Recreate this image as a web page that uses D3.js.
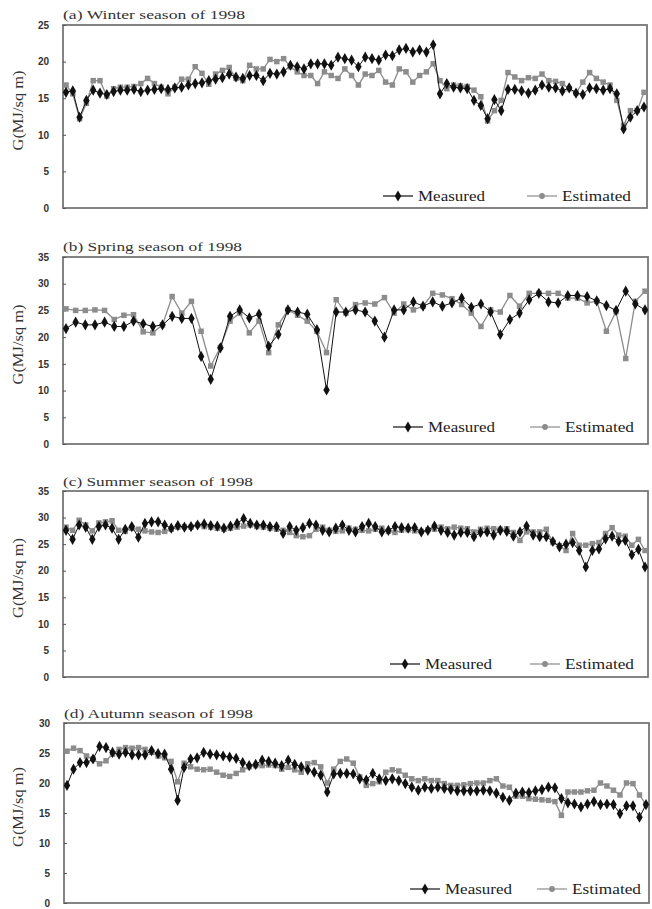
<!DOCTYPE html>
<html>
<head>
<meta charset="utf-8">
<script src="https://cdn.jsdelivr.net/npm/d3@7"></script>
<style>
  body { margin: 0; background: #fff; }
  svg { display: block; }
</style>
</head>
<body>
<svg id="chart" width="652" height="909"></svg>
<script>
// Daily global radiation, 1998 (MJ/sq m)
const winterMeasured = [15.8, 16.0, 12.4, 14.7, 16.1, 15.7, 15.5, 15.9, 16.1, 16.1, 16.2, 15.9, 16.1, 16.2, 16.3, 16.2, 16.4, 16.5, 16.8, 17.0, 17.1, 17.4, 17.6, 17.8, 18.3,
  17.9, 17.7, 18.1, 18.1, 17.4, 18.4, 18.3, 18.6, 19.5, 19.3, 19.0, 19.7, 19.7, 19.7, 19.5, 20.6, 20.4, 20.2, 19.3, 20.6, 20.4, 20.2, 20.9, 20.8, 21.6, 21.8, 21.3, 21.6, 21.3, 22.3, 15.6, 17.0,
  16.5, 16.4, 16.3, 14.7, 14.0, 12.2, 14.8, 13.3, 16.2, 16.2, 16.0, 15.7, 16.1, 16.8, 16.5, 16.4, 16.0, 16.4, 15.7, 15.5, 16.4, 16.3, 16.1, 16.3, 15.6, 10.8, 12.4, 13.3, 13.8];
const winterEstimated = [16.8, 15.6, 12.2, 14.3, 17.4, 17.4, 15.3, 16.3, 16.5, 16.5, 16.6, 17.0, 17.7, 17.0, 16.5, 15.6, 16.5, 17.6, 17.6, 19.3, 18.4, 16.9, 18.3, 18.8, 19.2,
  17.7, 17.4, 19.5, 19.0, 19.0, 20.3, 20.0, 20.4, 19.3, 18.6, 18.1, 18.1, 17.0, 18.6, 18.1, 17.7, 19.0, 18.1, 16.8, 18.3, 18.1, 18.8, 17.2, 16.8, 19.0, 18.6, 17.2, 18.1, 18.6, 19.7, 17.4, 16.3,
  16.8, 16.7, 16.6, 16.1, 15.2, 11.9, 13.3, 14.7, 18.5, 17.9, 17.4, 17.8, 17.7, 18.3, 17.4, 17.3, 17.0, 16.3, 15.7, 17.2, 18.5, 17.7, 17.2, 16.8, 14.7, 11.3, 13.3, 13.3, 15.8];

const springMeasured = [21.6, 22.8, 22.3, 22.3, 22.8, 22.0, 22.0, 23.0, 22.5, 22.0, 22.3, 23.9, 23.5, 23.5, 16.4, 12.1, 18.0, 23.9,
  25.1, 23.6, 24.3, 18.3, 20.5, 25.1, 24.7, 24.3, 21.4, 10.1, 24.7, 24.7, 25.1, 24.7, 23.0, 20.0, 25.1, 25.1, 26.6, 25.8, 26.6, 25.8,
  26.4, 27.3, 25.6, 26.2, 24.7, 20.5, 23.3, 24.5, 27.0, 28.2, 26.6, 26.4, 27.8, 27.8, 27.6, 26.8, 25.9, 25.0, 28.6, 26.2, 25.1];
const springEstimated = [25.3, 25.0, 25.0, 25.1, 25.0, 23.3, 24.1, 24.2, 21.0, 20.8, 22.3, 27.6, 24.5, 26.7, 21.1, 14.6, 18.1, 23.0,
  24.5, 20.8, 23.0, 17.1, 22.3, 25.1, 24.1, 23.0, 21.1, 17.1, 27.0, 24.5, 26.1, 26.4, 26.2, 27.4, 24.5, 26.2, 25.1, 25.8, 28.2, 27.9,
  27.2, 26.1, 24.5, 22.0, 25.1, 24.7, 27.8, 25.8, 28.2, 28.2, 28.2, 28.2, 27.3, 27.3, 26.4, 26.7, 21.1, 24.8, 16.0, 26.7, 28.6];

const summerMeasured = [27.6, 25.9, 28.6, 28.2, 25.9, 28.3, 28.6, 28.0, 25.9, 27.8, 28.3, 26.3, 28.9, 29.2, 29.2, 28.6, 28.0, 28.5, 28.2, 28.3, 28.6, 28.8, 28.5, 28.4, 28.0,
  28.4, 28.9, 29.8, 28.9, 28.6, 28.6, 28.3, 28.3, 27.0, 28.3, 27.6, 28.1, 28.9, 28.6, 27.6, 27.3, 28.0, 28.6, 27.6, 27.3, 28.3, 28.9, 28.3, 27.3, 27.6, 28.3, 28.1, 28.0, 28.1, 27.3, 27.6, 28.4,
  27.6, 27.2, 26.7, 27.2, 27.2, 26.4, 27.2, 27.3, 26.7, 27.6, 27.4, 26.5, 27.3, 28.4, 26.7, 26.4, 26.4, 25.5, 24.5, 25.0, 25.3, 23.8, 20.7, 23.8, 24.1, 26.0, 26.5, 25.5, 25.7, 23.0, 24.0, 20.7];
const summerEstimated = [28.2, 27.6, 29.5, 28.6, 27.5, 29.0, 29.2, 29.4, 27.6, 27.4, 28.0, 27.8, 27.5, 27.3, 27.2, 27.4, 27.8, 28.2, 28.3, 28.2, 28.6, 28.3, 28.2, 28.0, 27.8,
  28.0, 28.2, 28.4, 28.6, 28.3, 28.2, 28.0, 27.8, 27.6, 27.2, 26.6, 26.4, 26.6, 27.8, 28.2, 27.6, 27.4, 27.5, 28.0, 27.8, 27.6, 27.5, 27.8, 28.0, 27.4, 27.2, 27.6, 27.7, 27.5, 27.4, 27.7, 27.8,
  28.2, 27.9, 28.2, 28.0, 27.9, 27.3, 27.8, 28.0, 27.9, 27.8, 27.9, 27.2, 25.7, 27.3, 27.3, 27.3, 27.8, 25.3, 24.7, 23.8, 27.0, 24.8, 24.8, 25.1, 25.3, 27.0, 28.1, 26.7, 26.5, 24.8, 25.9, 23.8];

const autumnMeasured = [19.6, 22.3, 23.4, 23.4, 24.0, 26.1, 25.9, 25.1, 24.8, 25.1, 24.7, 24.7, 24.7, 25.4, 24.9, 24.8, 22.3, 17.1, 22.6, 24.0, 24.2, 25.1, 24.8, 24.7, 24.5, 24.3,
  24.1, 23.4, 22.9, 23.1, 23.8, 23.6, 23.3, 22.9, 23.8, 23.1, 22.7, 22.2, 21.8, 21.3, 18.5, 21.5, 21.6, 21.6, 21.5, 20.7, 20.5, 21.6, 20.7, 20.4, 20.7, 20.4, 19.9, 19.3, 18.8, 19.3, 19.1,
  19.3, 19.1, 18.9, 18.7, 18.7, 18.7, 18.7, 18.8, 18.7, 18.3, 17.6, 17.1, 18.3, 18.5, 18.4, 18.7, 18.9, 19.3, 19.2, 17.4, 16.7, 16.5, 16.0, 16.5, 16.9, 16.4, 16.5, 16.4, 14.9, 16.2, 16.2, 14.3, 16.4];
const autumnEstimated = [25.3, 25.8, 25.4, 24.5, 24.0, 23.2, 23.7, 24.8, 25.6, 25.9, 25.8, 25.9, 25.6, 25.1, 24.5, 24.2, 23.6, 20.2, 23.3, 22.7, 22.3, 22.2, 22.3, 21.8, 21.3, 21.1,
  21.6, 22.2, 22.7, 22.9, 22.9, 23.0, 22.9, 22.3, 22.6, 22.2, 21.8, 23.2, 23.4, 22.7, 20.0, 22.3, 23.6, 24.0, 23.3, 21.0, 19.6, 19.9, 20.2, 21.8, 22.2, 22.0, 21.3, 20.7, 20.4, 20.7, 20.4,
  20.4, 19.9, 19.6, 19.6, 19.7, 19.9, 20.0, 20.0, 20.4, 20.7, 19.5, 19.3, 17.8, 17.8, 17.4, 17.3, 17.2, 17.1, 16.9, 14.6, 18.5, 18.5, 18.5, 18.7, 18.8, 20.0, 19.5, 18.8, 18.0, 20.0, 19.9, 18.0, 16.4];

const panelTitles = ["(a) Winter season of 1998", "(b) Spring season of 1998", "(c) Summer season of 1998", "(d) Autumn season of 1998"];
const yMaxima = [25, 35, 35, 30];
const seriesNames = ["Measured", "Estimated"];

// layout of each panel on the page (frame box, legend placement)
const layout = [
  { left: 63, top: 25, right: 647, bottom: 208, legendY: 196, legendX: [383, 527], titleY: 19, titleW: 182 },
  { left: 63, top: 257, right: 648, bottom: 444, legendY: 427, legendX: [393, 530], titleY: 251, titleW: 179 },
  { left: 63, top: 491, right: 648, bottom: 677, legendY: 664, legendX: [390, 530], titleY: 486, titleW: 190 },
  { left: 64, top: 723, right: 649, bottom: 903, legendY: 889, legendX: [410, 537], titleY: 718, titleW: 189 }
];

const panels = [
  [winterMeasured, winterEstimated],
  [springMeasured, springEstimated],
  [summerMeasured, summerEstimated],
  [autumnMeasured, autumnEstimated]
];

const colors = { Measured: "#111", Estimated: "#8c8c8c" };
const svg = d3.select("#chart");
const serif = "'Liberation Serif', 'DejaVu Serif', serif";

panels.forEach(([measured, estimated], i) => {
  const L = layout[i];
  const g = svg.append("g");

  const x = d3.scaleLinear()
    .domain([0, measured.length - 1])
    .range([L.left + 3, L.right - 3]);
  const y = d3.scaleLinear()
    .domain([0, yMaxima[i]])
    .range([L.bottom, L.top]);

  // frame
  g.append("rect")
    .attr("x", L.left).attr("y", L.top)
    .attr("width", L.right - L.left).attr("height", L.bottom - L.top)
    .attr("fill", "none").attr("stroke", "#777").attr("stroke-width", 1.8);

  // y axis
  const axis = g.append("g")
    .attr("transform", `translate(${L.left},0)`)
    .call(d3.axisLeft(y).tickValues(d3.range(0, yMaxima[i] + 1, 5)).tickSize(-3).tickPadding(14));
  axis.select(".domain").remove();
  axis.selectAll(".tick line").attr("stroke", "#555");
  axis.selectAll(".tick text")
    .attr("fill", "#333")
    .attr("font-family", "'Liberation Sans', Arial, sans-serif")
    .attr("font-weight", "bold")
    .attr("font-size", 10);

  // y label
  g.append("text")
    .attr("transform", `translate(23,${(L.top + L.bottom) / 2 - 6}) rotate(-90)`)
    .attr("text-anchor", "middle")
    .attr("font-family", serif)
    .attr("font-size", 15)
    .attr("fill", "#333")
    .attr("textLength", 80)
    .attr("lengthAdjust", "spacingAndGlyphs")
    .text("G(MJ/sq m)");

  // title
  g.append("text")
    .attr("x", L.left).attr("y", L.titleY)
    .attr("font-family", serif)
    .attr("font-size", 12.5)
    .attr("fill", "#333")
    .attr("textLength", L.titleW)
    .attr("lengthAdjust", "spacingAndGlyphs")
    .text(panelTitles[i]);

  const line = d3.line().x((d, j) => x(j)).y(d => y(d));
  const diamond = d3.symbol(d3.symbolDiamond, 36);
  const square = d3.symbol(d3.symbolSquare, 30);

  // estimated first, measured on top
  g.append("path").datum(estimated)
    .attr("d", line).attr("fill", "none")
    .attr("stroke", colors.Estimated).attr("stroke-width", 1.3);
  g.selectAll(".est").data(estimated).enter().append("path")
    .attr("class", "est")
    .attr("transform", (d, j) => `translate(${x(j)},${y(d)})`)
    .attr("d", square).attr("fill", colors.Estimated);

  g.append("path").datum(measured)
    .attr("d", line).attr("fill", "none")
    .attr("stroke", colors.Measured).attr("stroke-width", 1);
  g.selectAll(".mea").data(measured).enter().append("path")
    .attr("class", "mea")
    .attr("transform", (d, j) => `translate(${x(j)},${y(d)})`)
    .attr("d", diamond).attr("fill", colors.Measured);

  // legend
  seriesNames.forEach((name, k) => {
    const lx = L.legendX[k];
    const lg = g.append("g").attr("transform", `translate(${lx},${L.legendY})`);
    lg.append("line").attr("x1", 0).attr("x2", 30)
      .attr("stroke", colors[name]).attr("stroke-width", 1.2);
    lg.append("path").attr("transform", "translate(15,0)")
      .attr("d", name === "Measured" ? diamond : d3.symbol(d3.symbolCircle, 26))
      .attr("fill", colors[name]);
    lg.append("text")
      .attr("x", 35).attr("y", 5)
      .attr("font-family", serif)
      .attr("font-size", 14)
      .attr("fill", "#222")
      .attr("textLength", name === "Measured" ? 67 : 69)
      .attr("lengthAdjust", "spacingAndGlyphs")
      .text(name);
  });
});
</script>
</body>
</html>
